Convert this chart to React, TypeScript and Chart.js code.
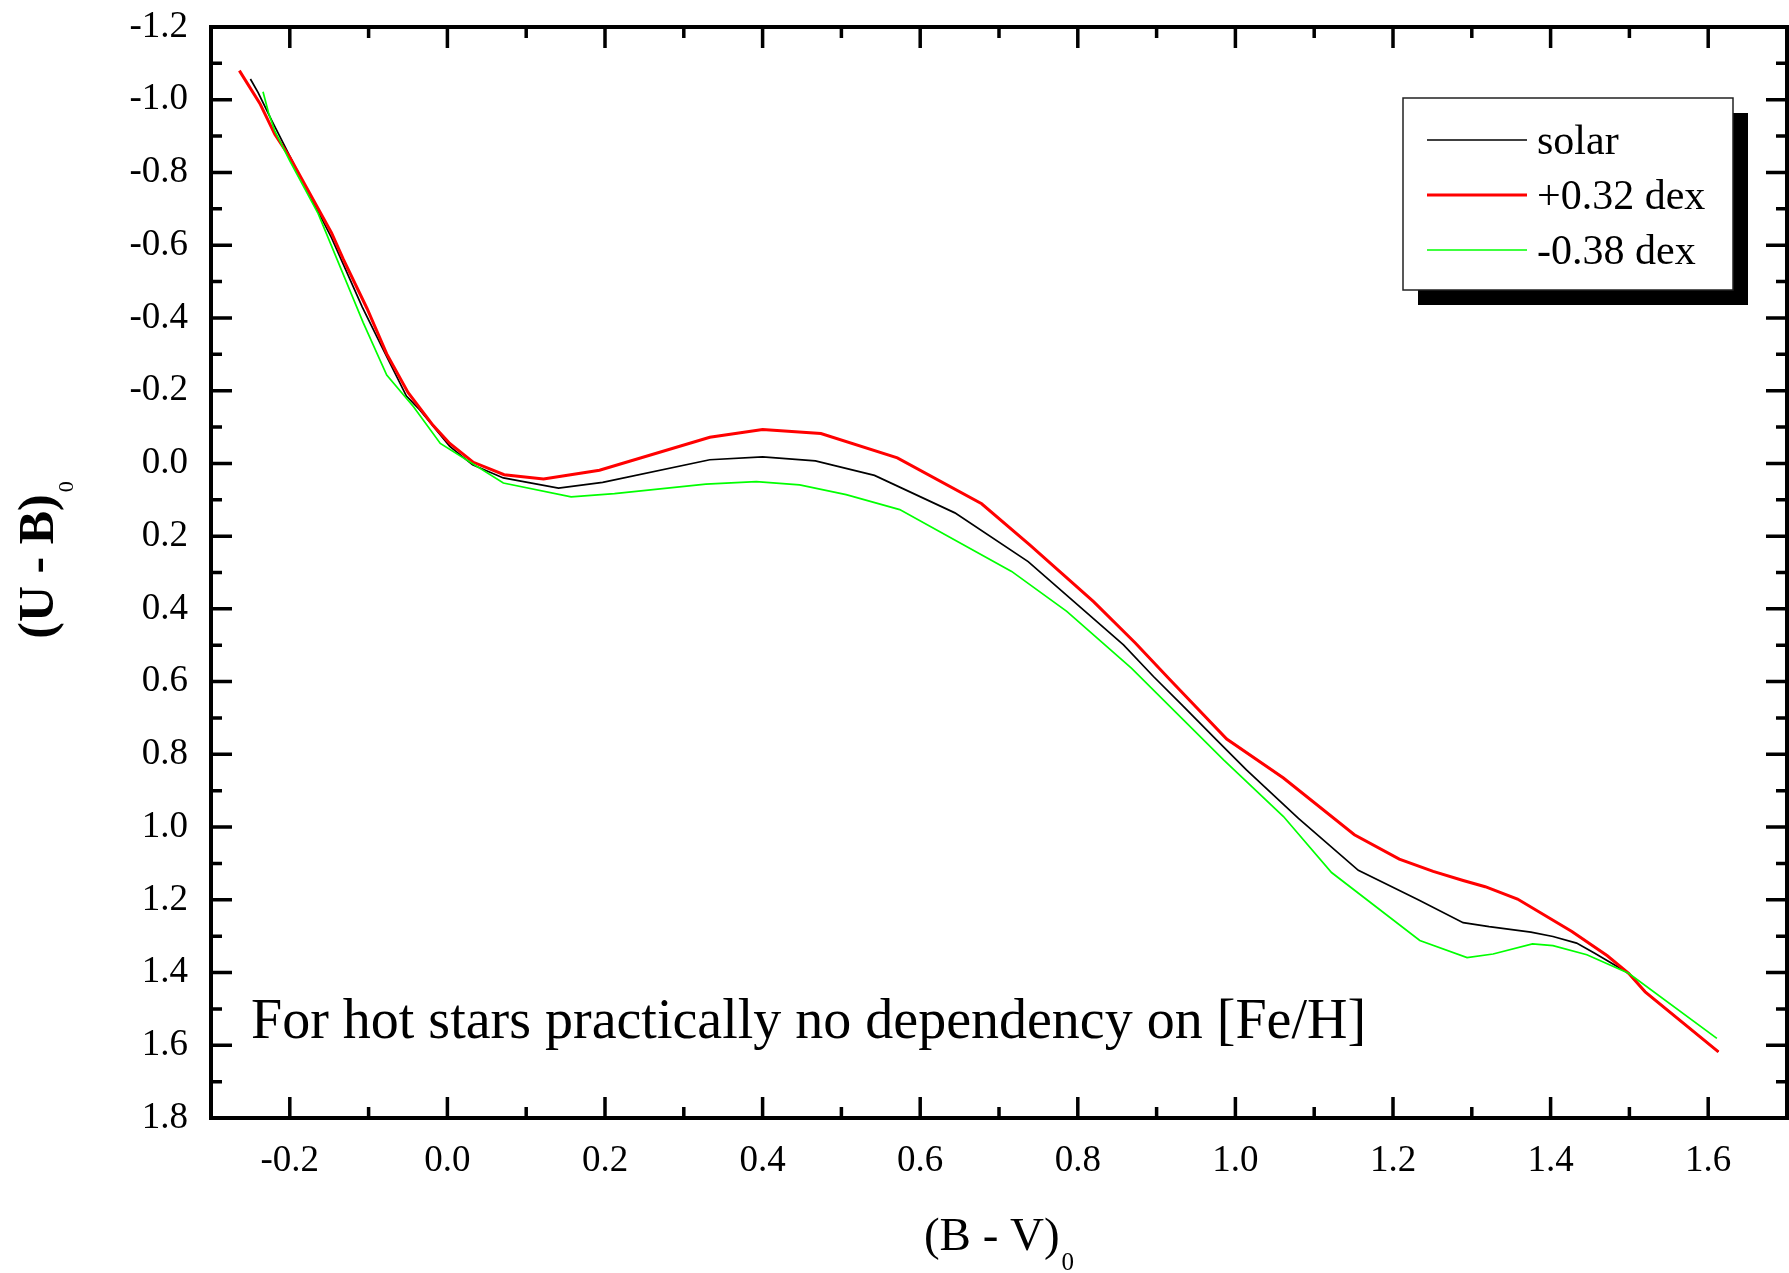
import React, { useEffect, useRef } from "react";
import { Chart, registerables } from "chart.js";

Chart.register(...registerables);

// ---------------- data ----------------
const SERIES_LABELS = ["solar", "+0.32 dex", "-0.38 dex"];

const SOLAR_BV = [-0.25, -0.24, -0.223, -0.2, -0.147, -0.108, -0.083, -0.052, -0.035, 0.003, 0.032, 0.071, 0.141, 0.197, 0.333, 0.4, 0.467, 0.542, 0.644, 0.737, 0.858, 0.896, 0.934, 0.976, 1.014, 1.08, 1.156, 1.232, 1.289, 1.322, 1.375, 1.403, 1.433, 1.456, 1.499, 1.52, 1.613];
const SOLAR_UB = [-1.057, -1.019, -0.943, -0.845, -0.62, -0.43, -0.32, -0.185, -0.147, -0.047, 0.004, 0.04, 0.068, 0.052, -0.01, -0.018, -0.007, 0.033, 0.136, 0.27, 0.499, 0.586, 0.668, 0.76, 0.843, 0.976, 1.119, 1.2, 1.263, 1.274, 1.289, 1.301, 1.319, 1.347, 1.402, 1.453, 1.618];

const RICH_BV = [-0.264, -0.238, -0.219, -0.2, -0.147, -0.132, -0.102, -0.077, -0.05, -0.018, 0.003, 0.033, 0.072, 0.122, 0.193, 0.333, 0.4, 0.474, 0.571, 0.678, 0.739, 0.82, 0.873, 0.917, 0.989, 1.061, 1.151, 1.208, 1.251, 1.289, 1.317, 1.358, 1.427, 1.472, 1.499, 1.52, 1.613];
const RICH_UB = [-1.08, -0.99, -0.905, -0.842, -0.634, -0.561, -0.426, -0.301, -0.195, -0.104, -0.055, -0.003, 0.031, 0.043, 0.019, -0.072, -0.093, -0.082, -0.015, 0.111, 0.224, 0.38, 0.494, 0.595, 0.758, 0.865, 1.021, 1.088, 1.122, 1.147, 1.164, 1.198, 1.287, 1.354, 1.402, 1.453, 1.618];

const POOR_BV = [-0.234, -0.227, -0.219, -0.2, -0.164, -0.107, -0.077, -0.043, -0.009, 0.071, 0.157, 0.212, 0.328, 0.392, 0.447, 0.506, 0.574, 0.716, 0.786, 0.868, 0.934, 0.985, 1.061, 1.122, 1.234, 1.294, 1.327, 1.377, 1.403, 1.446, 1.499, 1.611];
const POOR_UB = [-1.022, -0.964, -0.914, -0.832, -0.687, -0.388, -0.243, -0.156, -0.055, 0.054, 0.092, 0.083, 0.057, 0.05, 0.059, 0.086, 0.127, 0.297, 0.407, 0.563, 0.705, 0.815, 0.971, 1.125, 1.312, 1.359, 1.349, 1.321, 1.326, 1.351, 1.402, 1.581];

const X_MAJOR = [-0.2, 0.0, 0.2, 0.4, 0.6, 0.8, 1.0, 1.2, 1.4, 1.6];
const X_MINOR = [-0.1, 0.1, 0.3, 0.5, 0.7, 0.9, 1.1, 1.3, 1.5];
const Y_MAJOR = [-1.2, -1.0, -0.8, -0.6, -0.4, -0.2, 0.0, 0.2, 0.4, 0.6, 0.8, 1.0, 1.2, 1.4, 1.6, 1.8];
const Y_MINOR = [-1.1, -0.9, -0.7, -0.5, -0.3, -0.1, 0.1, 0.3, 0.5, 0.7, 0.9, 1.1, 1.3, 1.5, 1.7];

const X_TITLE = "(B - V)";
const X_TITLE_SUB = "0";
const Y_TITLE = "(U - B)";
const Y_TITLE_SUB = "0";
const NOTE = "For hot stars practically no dependency on [Fe/H]";

const SERIF = '"Liberation Serif", "Times New Roman", serif';

const zip = (xs: number[], ys: number[]) => xs.map((x, i) => ({ x, y: ys[i] }));

const decorPlugin = {
  id: "decor",
  afterDatasetsDraw(chart: any) {
    const { ctx, chartArea } = chart;
    const { left, right, top, bottom } = chartArea;
    const xs = chart.scales.x;
    const ys = chart.scales.y;
    ctx.save();

    // ticks (inward, all four sides)
    ctx.strokeStyle = "#000";
    ctx.lineCap = "butt";
    ctx.lineWidth = 3.5;
    ctx.beginPath();
    const xt = (vals: number[], len: number) => {
      vals.forEach((v) => {
        const px = xs.getPixelForValue(v);
        ctx.moveTo(px, bottom);
        ctx.lineTo(px, bottom - len);
        ctx.moveTo(px, top);
        ctx.lineTo(px, top + len);
      });
    };
    const yt = (vals: number[], len: number) => {
      vals.forEach((v) => {
        const py = ys.getPixelForValue(v);
        ctx.moveTo(left, py);
        ctx.lineTo(left + len, py);
        ctx.moveTo(right, py);
        ctx.lineTo(right - len, py);
      });
    };
    xt(X_MAJOR, 21);
    xt(X_MINOR, 11);
    yt(Y_MAJOR, 21);
    yt(Y_MINOR, 11);
    ctx.stroke();

    // frame
    ctx.lineWidth = 4;
    ctx.strokeRect(left, top, right - left, bottom - top);

    // legend with shadow
    const bx = right - 384;
    const by = top + 71;
    const bw = 330;
    const bh = 192;
    ctx.fillStyle = "#000";
    ctx.fillRect(bx + 15, by + 15, bw, bh);
    ctx.fillStyle = "#fff";
    ctx.fillRect(bx, by, bw, bh);
    ctx.strokeStyle = "#222";
    ctx.lineWidth = 1.5;
    ctx.strokeRect(bx, by, bw, bh);
    ctx.font = `42px ${SERIF}`;
    ctx.textAlign = "left";
    ctx.textBaseline = "alphabetic";
    chart.data.datasets.forEach((ds: any, i: number) => {
      const ly = by + 42 + i * 55;
      ctx.strokeStyle = ds.borderColor;
      ctx.lineWidth = ds.borderWidth;
      ctx.beginPath();
      ctx.moveTo(bx + 24, ly);
      ctx.lineTo(bx + 124, ly);
      ctx.stroke();
      ctx.fillStyle = "#000";
      ctx.fillText(ds.label, bx + 134, ly + 14);
    });

    // annotation
    ctx.fillStyle = "#000";
    ctx.font = `56px ${SERIF}`;
    ctx.fillText(NOTE, left + 40, 1038);

    // x title with subscript
    ctx.font = `47px ${SERIF}`;
    const mw = ctx.measureText(X_TITLE).width;
    ctx.font = `25px ${SERIF}`;
    const sw = ctx.measureText(X_TITLE_SUB).width;
    const cx = (left + right) / 2;
    const sx = cx - (mw + sw + 2) / 2;
    ctx.font = `47px ${SERIF}`;
    ctx.fillText(X_TITLE, sx, 1250);
    ctx.font = `25px ${SERIF}`;
    ctx.fillText(X_TITLE_SUB, sx + mw + 2, 1270);

    // y title (rotated) with subscript
    ctx.font = `bold 50px ${SERIF}`;
    const ymw = ctx.measureText(Y_TITLE).width;
    ctx.font = `22px ${SERIF}`;
    const ysw = ctx.measureText(Y_TITLE_SUB).width;
    ctx.translate(53, 560);
    ctx.rotate(-Math.PI / 2);
    const ysx = -(ymw + ysw + 2) / 2;
    ctx.font = `bold 50px ${SERIF}`;
    ctx.fillText(Y_TITLE, ysx, 0);
    ctx.font = `22px ${SERIF}`;
    ctx.fillText(Y_TITLE_SUB, ysx + ymw + 2, 20);

    ctx.restore();
  },
};

export default function App() {
  const ref = useRef<HTMLCanvasElement | null>(null);

  useEffect(() => {
    document.body.style.margin = "0";
    const canvas = ref.current;
    if (!canvas) return;
    const tickFont = { family: SERIF, size: 37 };
    const chart = new Chart(canvas, {
      type: "scatter",
      data: {
        datasets: [
          {
            label: SERIES_LABELS[0],
            data: zip(SOLAR_BV, SOLAR_UB),
            showLine: true,
            borderColor: "#000000",
            backgroundColor: "#000000",
            borderWidth: 1.7,
            pointRadius: 0,
            tension: 0,
            order: 2,
          },
          {
            label: SERIES_LABELS[1],
            data: zip(RICH_BV, RICH_UB),
            showLine: true,
            borderColor: "#ff0000",
            backgroundColor: "#ff0000",
            borderWidth: 3,
            pointRadius: 0,
            tension: 0,
            order: 1,
          },
          {
            label: SERIES_LABELS[2],
            data: zip(POOR_BV, POOR_UB),
            showLine: true,
            borderColor: "#00ff00",
            backgroundColor: "#00ff00",
            borderWidth: 1.7,
            pointRadius: 0,
            tension: 0,
            order: 0,
          },
        ],
      },
      options: {
        responsive: false,
        animation: false,
        devicePixelRatio: 1,
        layout: { padding: { top: 27, right: 2, left: 0, bottom: 0 } },
        plugins: {
          legend: { display: false },
          tooltip: { enabled: false },
          title: { display: false },
        },
        scales: {
          x: {
            type: "linear",
            position: "bottom",
            min: -0.3,
            max: 1.7,
            grid: { display: false, drawTicks: false },
            border: { display: false },
            afterBuildTicks: (s: any) => {
              s.ticks = X_MAJOR.map((v) => ({ value: v }));
            },
            afterFit: (s: any) => {
              s.height = 155;
              s.paddingLeft = 0;
              s.paddingRight = 0;
            },
            ticks: {
              padding: 21,
              color: "#000",
              font: tickFont,
              autoSkip: false,
              maxRotation: 0,
              callback: (v: any) => Number(v).toFixed(1),
            },
          },
          y: {
            type: "linear",
            position: "left",
            reverse: true,
            min: -1.2,
            max: 1.8,
            grid: { display: false, drawTicks: false },
            border: { display: false },
            afterBuildTicks: (s: any) => {
              s.ticks = Y_MAJOR.map((v) => ({ value: v }));
            },
            afterFit: (s: any) => {
              s.width = 211;
              s.paddingTop = 0;
              s.paddingBottom = 0;
            },
            ticks: {
              padding: 23,
              color: "#000",
              font: tickFont,
              autoSkip: false,
              callback: (v: any) => Number(v).toFixed(1),
            },
          },
        },
      },
      plugins: [decorPlugin],
    } as any);
    return () => chart.destroy();
  }, []);

  return (
    <div style={{ position: "absolute", left: 0, top: 0, width: 1789, height: 1273 }}>
      <canvas ref={ref} width={1789} height={1273} style={{ display: "block", width: 1789, height: 1273 }} />
    </div>
  );
}
